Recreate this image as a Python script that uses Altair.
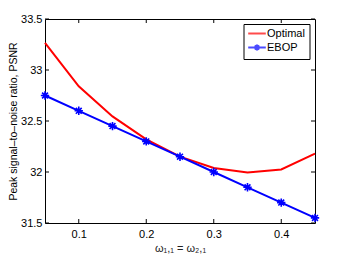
import altair as alt
import pandas as pd

omega = [0.05, 0.10, 0.15, 0.20, 0.25, 0.30, 0.35, 0.40, 0.45]
optimal = [33.265, 32.84, 32.545, 32.32, 32.15, 32.04, 31.995, 32.025, 32.18]
ebop = [32.75, 32.60, 32.45, 32.30, 32.15, 32.00, 31.85, 31.70, 31.55]
series_names = ["Optimal", "EBOP"]
x_ticks = [0.1, 0.2, 0.3, 0.4]
y_ticks = [31.5, 32.0, 32.5, 33.0, 33.5]

W, H = 270, 204
FONT = "Liberation Sans"

df = pd.DataFrame({
    "omega": omega * 2,
    "psnr": optimal + ebop,
    "series": ["Optimal"] * len(omega) + ["EBOP"] * len(omega),
})
xt = pd.DataFrame({"omega": x_ticks})
yt = pd.DataFrame({"psnr": y_ticks})

X = alt.X("omega:Q", scale=alt.Scale(domain=[0.05, 0.45], nice=False, zero=False),
          axis=alt.Axis(title="ω₁,₁ = ω₂,₁", values=x_ticks, format=".1f", tickSize=0,
                        domain=False, grid=False, labelFont=FONT, labelFontSize=11,
                        labelColor="black", labelPadding=5, titleFont=FONT,
                        titleFontSize=11, titleFontWeight="normal", titleColor="#222",
                        titlePadding=3))
Y = alt.Y("psnr:Q", scale=alt.Scale(domain=[31.5, 33.5], nice=False, zero=False),
          axis=alt.Axis(title="Peak signal–to–noise ratio, PSNR", values=y_ticks, format="~g",
                        tickSize=0, domain=False, grid=False, labelFont=FONT,
                        labelFontSize=11, labelColor="black", labelPadding=3,
                        titleFont=FONT, titleFontSize=10.5, titleFontWeight="normal",
                        titleColor="black", titlePadding=2.5))

star = "M0,-1L0,1M-1,0L1,0M-0.7,-0.7L0.7,0.7M-0.7,0.7L0.7,-0.7"
leg_line = "M-2.2,0L2.2,0"
leg_star = "M-2.2,0L2.2,0M0,-0.75L0,0.75M-0.75,0L0.75,0M-0.53,-0.53L0.53,0.53M-0.53,0.53L0.53,-0.53"

opt_line = alt.Chart(df).transform_filter("datum.series == 'Optimal'").mark_line(
    color="#ff0000", strokeWidth=2).encode(x=X, y=Y)
ebop_line = alt.Chart(df).transform_filter("datum.series == 'EBOP'").mark_line(
    color="#0000ff", strokeWidth=2).encode(x=X, y=Y)
ebop_pts = alt.Chart(df).transform_filter("datum.series == 'EBOP'").mark_point(
    shape=star, size=70, filled=False, color="#0000ff", strokeWidth=1.6, opacity=1).encode(x=X, y=Y)

xt_bot = alt.Chart(xt).mark_rule(color="black", strokeWidth=1).encode(
    x=X, y=alt.value(H), y2=alt.value(H - 4))
xt_top = alt.Chart(xt).mark_rule(color="black", strokeWidth=1).encode(
    x=X, y=alt.value(0), y2=alt.value(4))
yt_left = alt.Chart(yt).mark_rule(color="black", strokeWidth=1).encode(
    y=Y, x=alt.value(0), x2=alt.value(4))
yt_right = alt.Chart(yt).mark_rule(color="black", strokeWidth=1).encode(
    y=Y, x=alt.value(W), x2=alt.value(W - 4))

leg = alt.Legend(title=None, orient="none", legendX=198.5, legendY=5, strokeColor="black",
                 fillColor="white", padding=4, labelFont=FONT, labelFontSize=11,
                 labelColor="black", symbolSize=64, symbolStrokeWidth=2,
                 symbolOffset=4, labelOffset=4.5, rowPadding=1, cornerRadius=0)
legend_layer = alt.Chart(df).transform_filter("false").mark_point(filled=False, size=64).encode(
    color=alt.Color("series:N", scale=alt.Scale(domain=series_names, range=["#ff0000", "#0000ff"]), legend=leg),
    shape=alt.Shape("series:N", scale=alt.Scale(domain=series_names, range=[leg_line, leg_star]), legend=leg),
)

chart = alt.layer(
    opt_line, ebop_line, ebop_pts, xt_bot, xt_top, yt_left, yt_right, legend_layer
).properties(
    width=W, height=H,
    autosize=alt.AutoSizeParams(type="none"),
    padding={"left": 37, "top": 11, "right": 24, "bottom": 34},
    background="white",
).configure_view(stroke="black", strokeWidth=1)

chart.save("out.html", embed_options={"renderer": "svg", "actions": False})
